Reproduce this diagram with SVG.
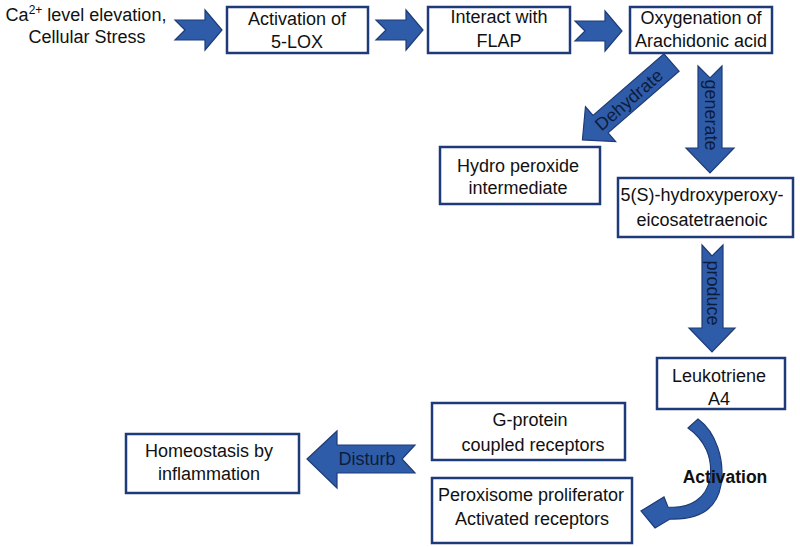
<svg xmlns="http://www.w3.org/2000/svg" width="800" height="547" viewBox="0 0 800 547">
<style>
.box{fill:#fff;stroke:#1f3a78;stroke-width:2.5}
.arr{fill:#2f5ca9;stroke:#1e3b76;stroke-width:1.2}
.t{font-family:"Liberation Sans",Arial,sans-serif;font-size:18px;fill:#111;text-anchor:middle}
.at{font-family:"Liberation Sans",Arial,sans-serif;font-size:18px;fill:#0e1c3c;text-anchor:middle}
.b{font-weight:bold;font-size:17.5px}
</style>
<rect width="800" height="547" fill="#fff"/>
<g id="connectors">
<path class="arr" d="M175,20 L205,20 L205,10 L222,30 L205,50 L205,40 L175,40 L185,30 Z"/>
<path class="arr" d="M376,20 L406,20 L406,10 L423,30 L406,50 L406,40 L376,40 L386,30 Z"/>
<path class="arr" d="M575,21 L605,21 L605,11 L622,31 L605,51 L605,41 L575,41 L585,31 Z"/>
<g transform="translate(671.5,62.5) rotate(139)"><path class="arr" d="M0,-11.5 L94,-11.5 L94,-23 L118,0 L94,23 L94,11.5 L0,11.5 Z"/></g>
<text class="at" transform="translate(629,100) rotate(-41)" y="6">Dehydrate</text>
<path class="arr" d="M698,66 L710,78 L722,66 L722,148 L734,148 L710,173 L686,148 L698,148 Z"/>
<text class="at" transform="translate(710,115) rotate(90)" y="5">generate</text>
<path class="arr" d="M702,245 L712,256 L723,245 L723,328 L735,328 L712,352 L689,328 L702,328 Z"/>
<text class="at" transform="translate(712,293) rotate(90)" y="5">produce</text>
<path class="arr" d="M415,445 L402,459 L415,473 L337,473 L337,488 L307,459 L337,431 L337,445 Z"/>
<text class="at" x="367" y="465">Disturb</text>
<path class="arr" d="M688,428 L698,419 C716,432 725,460 721,485 C717,508 700,520 670,519 L655,528 L641,511 L664,497 L668,507 C690,509 707,498 710,478 C713,458 705,440 688,428 Z"/>
<text class="t b" x="725" y="483">Activation</text>
</g>
<g id="start">
<text class="t" x="86" y="21">Ca<tspan font-size="12" dy="-7">2+</tspan><tspan dy="7"> level elevation,</tspan></text>
<text class="t" x="87" y="43">Cellular Stress</text>
</g>
<g id="n1"><rect class="box" x="227" y="7" width="141" height="46"/><text class="t" x="297" y="25">Activation of</text><text class="t" x="297" y="48">5-LOX</text></g>
<g id="n2"><rect class="box" x="428" y="7" width="142" height="46"/><text class="t" x="499" y="23">Interact with</text><text class="t" x="499" y="47">FLAP</text></g>
<g id="n3"><rect class="box" x="630" y="7" width="142" height="46"/><text class="t" x="701" y="24">Oxygenation of</text><text class="t" x="701" y="47">Arachidonic acid</text></g>
<g id="n4"><rect class="box" x="440" y="147" width="160" height="57"/><text class="t" x="518" y="172">Hydro peroxide</text><text class="t" x="518" y="194">intermediate</text></g>
<g id="n5"><rect class="box" x="618" y="178" width="175" height="59"/><text class="t" x="702" y="201">5(S)-hydroxyperoxy-</text><text class="t" x="702" y="226">eicosatetraenoic</text></g>
<g id="n6"><rect class="box" x="657" y="358" width="128" height="51"/><text class="t" x="719" y="382">Leukotriene</text><text class="t" x="719" y="405">A4</text></g>
<g id="n7"><rect class="box" x="432" y="403" width="193" height="57"/><text class="t" x="530" y="426">G-protein</text><text class="t" x="533" y="451">coupled receptors</text></g>
<g id="n8"><rect class="box" x="432" y="478" width="200" height="65"/><text class="t" x="531" y="501">Peroxisome proliferator</text><text class="t" x="532" y="525">Activated receptors</text></g>
<g id="n9"><rect class="box" x="126" y="434" width="173" height="59"/><text class="t" x="209" y="457">Homeostasis by</text><text class="t" x="209" y="480">inflammation</text></g>
</svg>
